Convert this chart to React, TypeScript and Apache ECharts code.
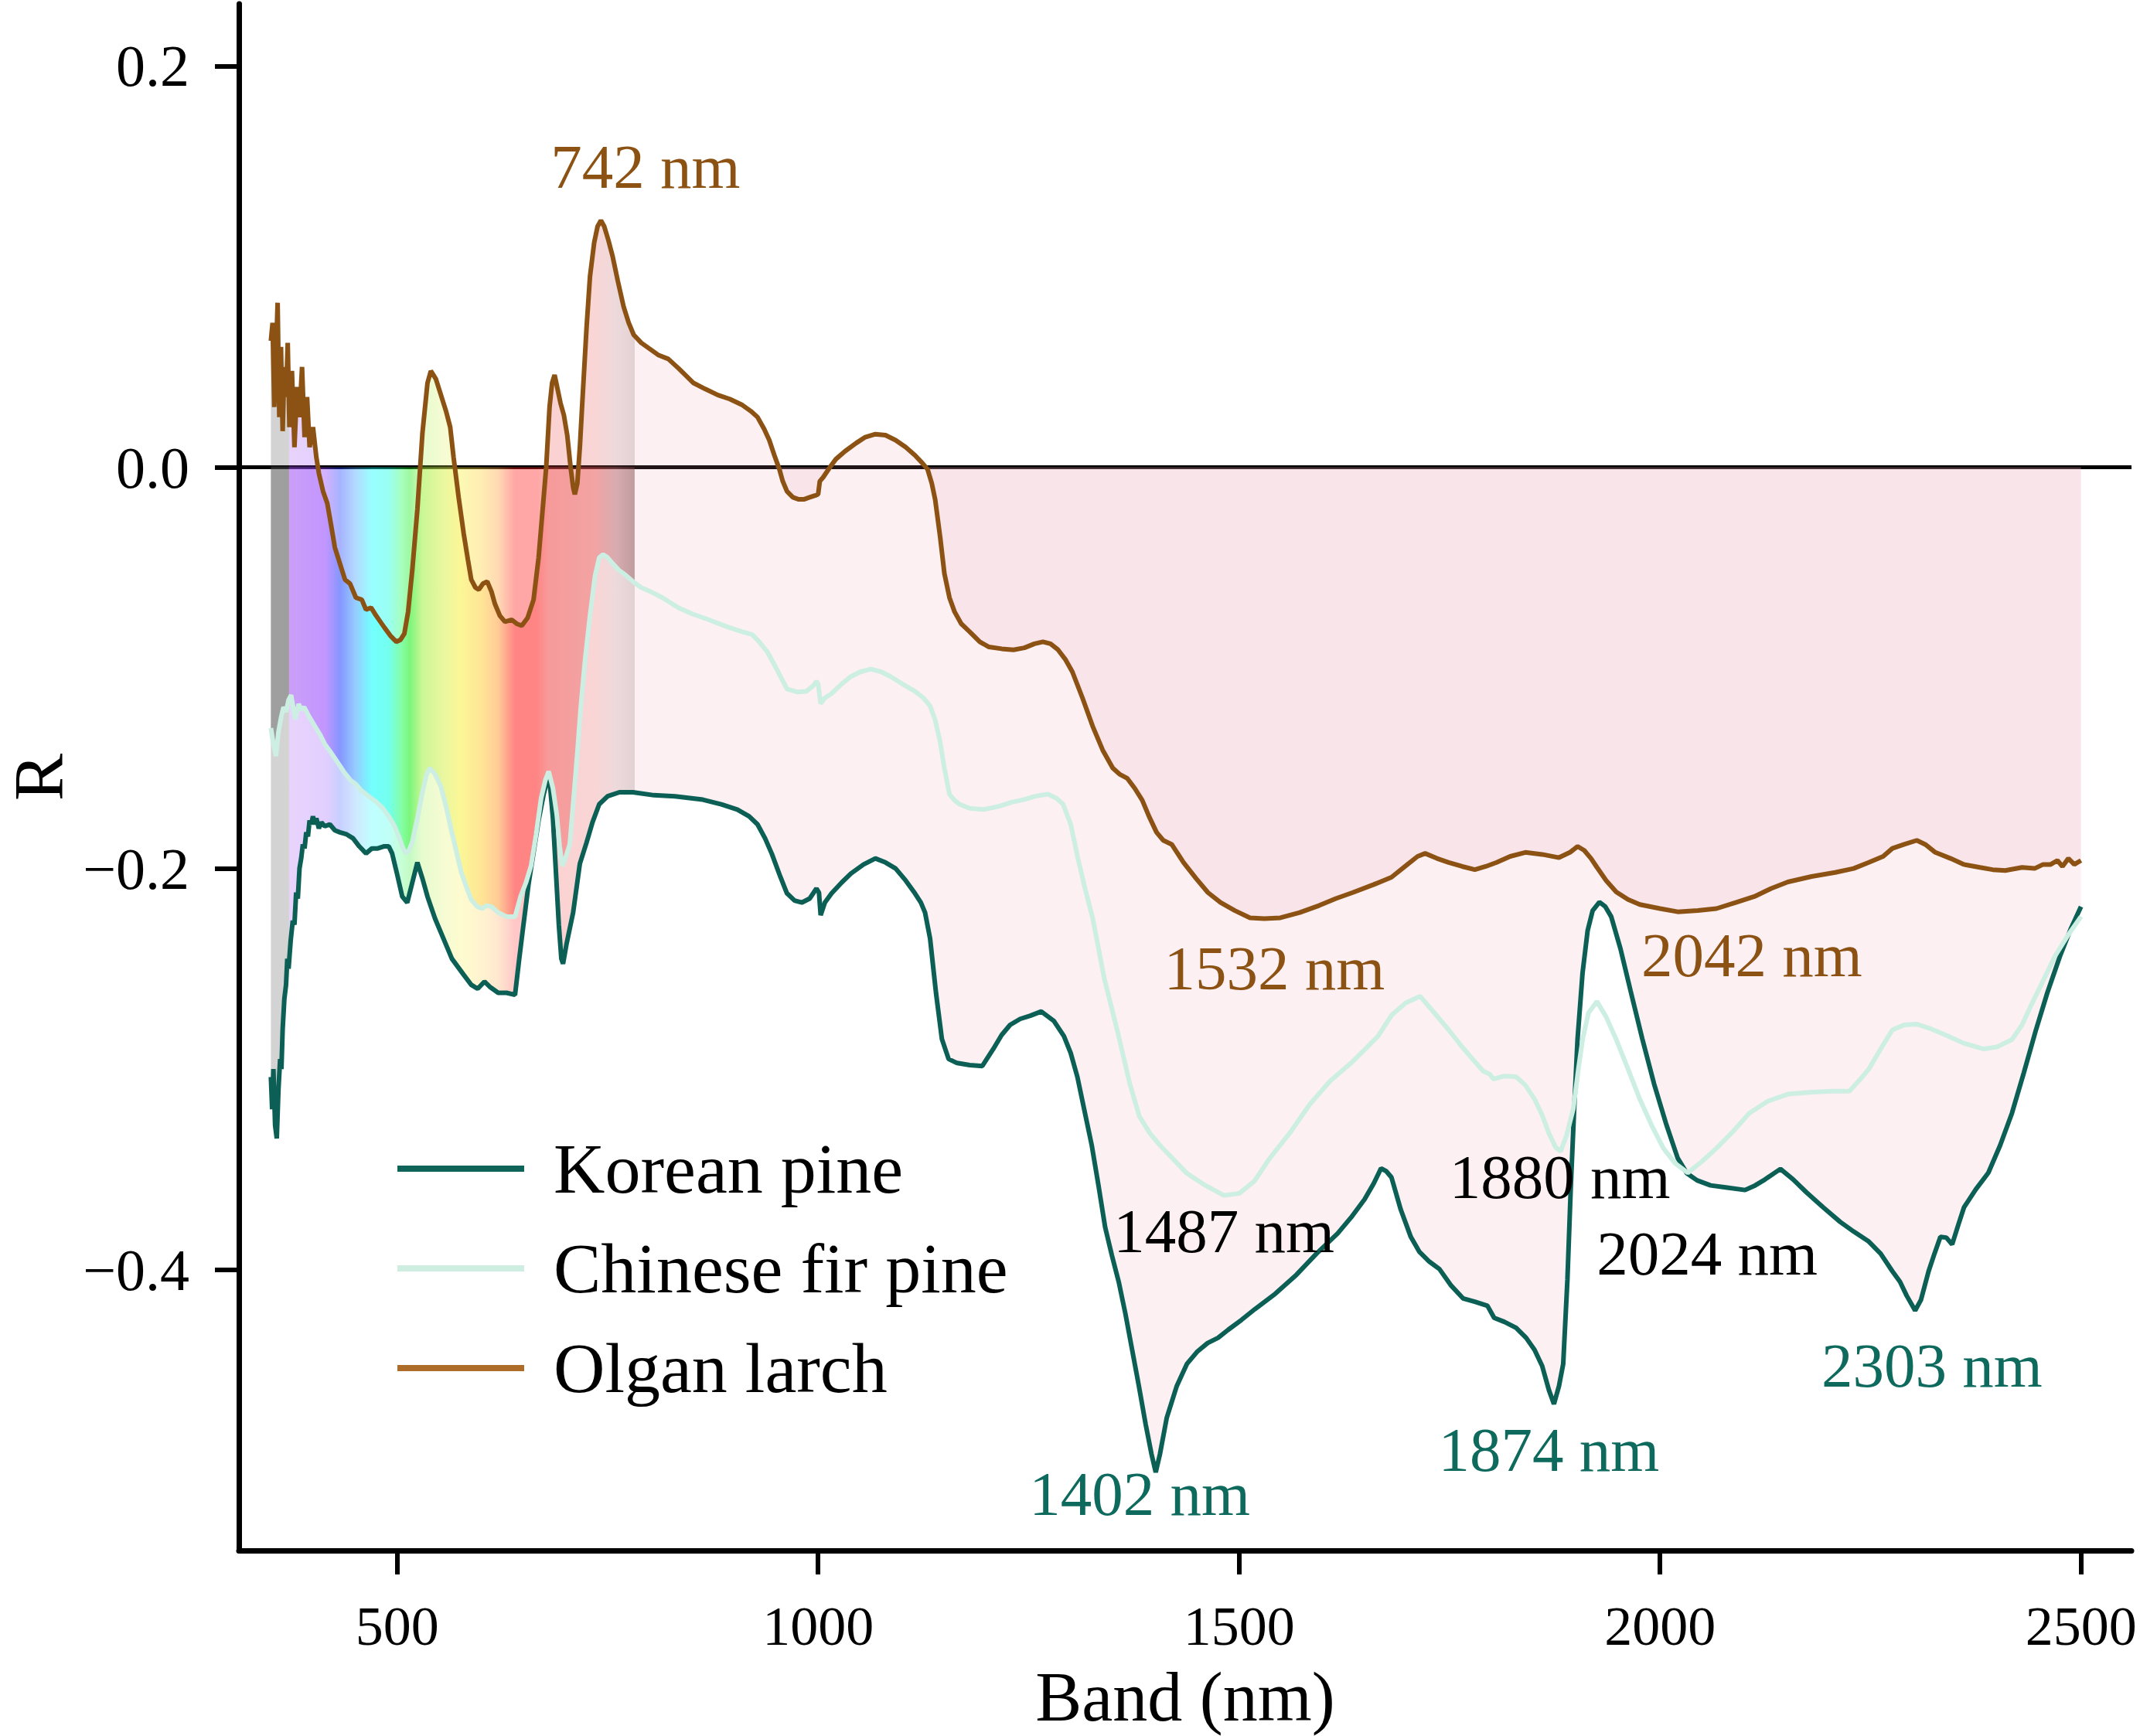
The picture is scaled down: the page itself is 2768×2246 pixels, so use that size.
import React, { useEffect, useRef } from "react";
import * as echarts from "echarts";

// ---------------- data ----------------
const KOREAN_PINE: [number, number][] = [
  [350,-0.304],[351.5,-0.32],[353,-0.3],[355,-0.328],[357,-0.3346],[359,-0.31],[361,-0.295],[362.5,-0.3],[364,-0.28],[366,-0.265],[368,-0.258],[369.5,-0.245],[371,-0.25],[373.5,-0.236],[376,-0.226],[378,-0.228],[380,-0.212],[382,-0.215],[384,-0.2],[386,-0.195],[388,-0.188],[390,-0.19],[392,-0.182],[394,-0.184],[396,-0.176],[398,-0.178],[400,-0.174],[402,-0.178],[404,-0.175],[407,-0.18],[410,-0.177],[414,-0.179],[420,-0.178],[426,-0.181],[432,-0.182],[440,-0.183],[447.6,-0.185],[455,-0.189],[463,-0.1925],[470,-0.19],[477,-0.19],[484,-0.189],[490,-0.189],[494,-0.1925],[500,-0.203],[506,-0.214],[512,-0.217],[518,-0.207],[524,-0.197],[530,-0.205],[536,-0.214],[545,-0.225],[555,-0.235],[565,-0.245],[579,-0.253],[588,-0.258],[595.6,-0.26],[603.7,-0.2564],[610,-0.259],[620,-0.262],[630,-0.262],[640,-0.263],[645,-0.245],[650,-0.228],[656,-0.208],[662,-0.192],[668,-0.176],[674,-0.163],[679,-0.155],[681,-0.156],[685,-0.175],[689,-0.205],[692,-0.228],[695,-0.245],[697,-0.2475],[701,-0.238],[709,-0.222],[717,-0.1976],[725,-0.187],[732,-0.177],[740,-0.168],[750,-0.164],[764,-0.162],[780,-0.162],[805,-0.1635],[830,-0.164],[863,-0.1657],[885,-0.168],[904,-0.1706],[918,-0.174],[928,-0.178],[937,-0.185],[945,-0.1927],[955,-0.204],[963,-0.2124],[972,-0.216],[980.6,-0.217],[990,-0.215],[998,-0.21],[1001,-0.212],[1003,-0.2233],[1008,-0.217],[1016,-0.2124],[1028,-0.207],[1039,-0.2025],[1054,-0.198],[1068,-0.195],[1080,-0.197],[1092,-0.2],[1104,-0.206],[1115,-0.2124],[1122,-0.217],[1127,-0.222],[1133,-0.235],[1140,-0.262],[1147,-0.285],[1155,-0.295],[1165,-0.297],[1180,-0.298],[1195,-0.2985],[1208,-0.29],[1218,-0.283],[1228,-0.278],[1240,-0.275],[1252,-0.2734],[1265,-0.2713],[1280,-0.276],[1292,-0.2836],[1300,-0.292],[1308,-0.304],[1316,-0.32],[1325,-0.338],[1333,-0.358],[1341,-0.379],[1349,-0.393],[1357,-0.406],[1365,-0.422],[1373,-0.44],[1381,-0.458],[1389,-0.477],[1396,-0.492],[1401,-0.501],[1406,-0.492],[1414,-0.474],[1426,-0.458],[1438,-0.447],[1450,-0.441],[1462.6,-0.4366],[1475,-0.434],[1487,-0.43],[1503,-0.425],[1519,-0.4196],[1543,-0.412],[1568,-0.4026],[1592,-0.392],[1617,-0.382],[1633,-0.374],[1649,-0.365],[1660,-0.357],[1668.6,-0.3495],[1675,-0.351],[1681,-0.354],[1692,-0.37],[1704,-0.3837],[1714,-0.391],[1726,-0.396],[1738,-0.3997],[1752,-0.408],[1766,-0.4143],[1780,-0.416],[1795,-0.418],[1803,-0.424],[1815,-0.426],[1829,-0.429],[1841,-0.434],[1851,-0.44],[1860,-0.448],[1868,-0.46],[1874,-0.467],[1880,-0.458],[1885,-0.447],[1890,-0.405],[1894,-0.359],[1898,-0.32],[1902,-0.2853],[1908,-0.252],[1914,-0.231],[1920,-0.221],[1928,-0.2168],[1935,-0.219],[1942,-0.224],[1953,-0.24],[1965,-0.261],[1979,-0.285],[1993,-0.3075],[2007,-0.327],[2021,-0.3444],[2032,-0.352],[2044,-0.3555],[2060,-0.358],[2078,-0.359],[2101,-0.3603],[2113,-0.358],[2123,-0.3555],[2143,-0.3498],[2158,-0.355],[2174,-0.3615],[2194,-0.369],[2214,-0.3762],[2230,-0.381],[2248,-0.386],[2262,-0.392],[2276,-0.4008],[2285,-0.406],[2293,-0.413],[2303,-0.4204],[2310,-0.415],[2319,-0.4008],[2326,-0.392],[2333,-0.3837],[2340,-0.384],[2347,-0.3874],[2354,-0.378],[2361,-0.369],[2375,-0.36],[2390,-0.3517],[2404,-0.338],[2418,-0.322],[2432,-0.302],[2446.5,-0.2805],[2460,-0.262],[2475,-0.2438],[2488,-0.23],[2500,-0.219],
];

const CHINESE_FIR: [number, number][] = [
  [350,-0.13],[353,-0.138],[356,-0.144],[359,-0.132],[362,-0.125],[365,-0.1196],[368,-0.122],[371,-0.116],[374,-0.1136],[377,-0.121],[379,-0.1257],[383,-0.118],[386,-0.121],[389.5,-0.1196],[395,-0.124],[401.7,-0.1287],[408,-0.133],[414,-0.138],[421,-0.142],[429,-0.147],[437,-0.152],[444.6,-0.156],[451,-0.158],[457,-0.161],[466,-0.164],[475,-0.1668],[483,-0.17],[490.5,-0.1744],[497,-0.179],[502.7,-0.185],[507,-0.19],[510,-0.1925],[514,-0.191],[518,-0.1866],[524,-0.175],[530,-0.162],[535,-0.153],[539,-0.15],[545,-0.153],[551.7,-0.159],[558,-0.169],[564,-0.1805],[570,-0.191],[576,-0.2018],[582,-0.209],[588,-0.2155],[595,-0.219],[601,-0.22],[606,-0.2185],[612,-0.219],[620,-0.222],[630,-0.224],[640,-0.224],[646.6,-0.214],[653,-0.207],[659,-0.1987],[665,-0.183],[671,-0.165],[676,-0.156],[680,-0.1516],[685,-0.16],[689.5,-0.173],[693,-0.189],[696,-0.1987],[699,-0.196],[705,-0.188],[709,-0.168],[714,-0.1425],[718,-0.12],[723,-0.0967],[729,-0.074],[735,-0.0542],[740,-0.045],[744.6,-0.0435],[750,-0.045],[756,-0.048],[763,-0.0512],[772,-0.054],[781,-0.0573],[790,-0.06],[800,-0.0618],[815,-0.065],[834,-0.07],[850,-0.073],[870,-0.076],[893,-0.0797],[910,-0.082],[922,-0.0835],[930,-0.087],[939.6,-0.092],[950,-0.1],[963,-0.1105],[975,-0.112],[986,-0.1117],[994,-0.109],[998,-0.1067],[1000,-0.108],[1003,-0.1178],[1008,-0.115],[1016,-0.1128],[1028,-0.108],[1039,-0.1043],[1050,-0.102],[1062.6,-0.1006],[1075,-0.102],[1086,-0.1043],[1100,-0.108],[1115,-0.1117],[1125,-0.115],[1133,-0.119],[1139,-0.126],[1144.6,-0.1363],[1150,-0.15],[1156,-0.163],[1162,-0.166],[1168,-0.168],[1180,-0.17],[1197,-0.1706],[1215,-0.169],[1230,-0.167],[1244,-0.1657],[1258,-0.164],[1273,-0.163],[1283,-0.165],[1291,-0.168],[1300,-0.178],[1308.6,-0.195],[1317,-0.21],[1326,-0.2246],[1340,-0.255],[1357,-0.2836],[1370,-0.307],[1381.6,-0.3236],[1394,-0.332],[1406,-0.338],[1422,-0.345],[1438,-0.352],[1460,-0.358],[1482,-0.363],[1500,-0.362],[1518,-0.356],[1535.5,-0.345],[1560,-0.332],[1584,-0.3176],[1608,-0.306],[1633,-0.297],[1650,-0.29],[1665,-0.2836],[1681,-0.2732],[1698,-0.267],[1715,-0.2637],[1732,-0.272],[1749,-0.2805],[1765,-0.289],[1778,-0.2953],[1790,-0.301],[1798,-0.3026],[1802,-0.305],[1815,-0.3035],[1829,-0.3038],[1840,-0.308],[1851,-0.315],[1860,-0.323],[1868,-0.332],[1876,-0.339],[1882,-0.341],[1889,-0.333],[1897,-0.3198],[1903,-0.3],[1908,-0.2853],[1915,-0.272],[1925,-0.2663],[1936,-0.274],[1948,-0.2853],[1962,-0.3],[1976,-0.315],[1990,-0.328],[2004,-0.3395],[2018,-0.347],[2033,-0.3517],[2050,-0.346],[2067,-0.3395],[2087,-0.331],[2106,-0.322],[2128,-0.316],[2152,-0.3125],[2180,-0.3115],[2205,-0.311],[2225,-0.311],[2238,-0.305],[2248,-0.3],[2262,-0.29],[2276,-0.2805],[2290,-0.278],[2305,-0.2776],[2322,-0.28],[2339,-0.283],[2360,-0.287],[2384,-0.29],[2400,-0.289],[2418,-0.2853],[2430,-0.278],[2441,-0.268],[2455,-0.256],[2469,-0.2438],[2485,-0.233],[2500,-0.224],
];

const OLGAN_LARCH: [number, number][] = [
  [350,0.063],[352,0.072],[354,0.03],[356,0.055],[358,0.082],[360,0.025],[362,0.06],[364,0.018],[366,0.05],[368,0.035],[370,0.062],[372,0.02],[375,0.048],[378,0.01],[381,0.04],[384,0.025],[387,0.05],[390,0.015],[393,0.035],[396,0.01],[400,0.02],[404,0.005],[407,-0.003],[412,-0.012],[417,-0.018],[422,-0.03],[426,-0.04],[432,-0.048],[438,-0.056],[444,-0.058],[451,-0.065],[458,-0.066],[463,-0.071],[469,-0.07],[475,-0.074],[480,-0.077],[485,-0.08],[492,-0.084],[499,-0.087],[504,-0.086],[508.5,-0.083],[513,-0.072],[518,-0.051],[524,-0.021],[530,0.017],[536,0.042],[540,0.048],[546,0.044],[552,0.036],[558,0.028],[563,0.02],[567,0.005],[573,-0.015],[579,-0.033],[584,-0.046],[588,-0.056],[593,-0.06],[597,-0.061],[602,-0.058],[607,-0.057],[612,-0.062],[616,-0.068],[622,-0.074],[628,-0.077],[636,-0.076],[642,-0.078],[648,-0.079],[655,-0.075],[662,-0.066],[668,-0.045],[673,-0.02],[677,0],[681,0.03],[684,0.042],[687,0.046],[690,0.04],[694,0.032],[698,0.026],[702,0.016],[706,0],[709,-0.01],[711,-0.0135],[714,-0.008],[717,0.01],[720,0.033],[725,0.07],[729,0.095],[734,0.112],[738,0.12],[742,0.123],[746,0.12],[751,0.113],[756,0.105],[762,0.093],[769,0.08],[775,0.072],[781,0.066],[790,0.062],[800,0.059],[810,0.056],[822,0.054],[835,0.049],[852,0.042],[866,0.039],[881,0.036],[895,0.034],[910,0.031],[920,0.028],[928,0.025],[936,0.019],[942,0.0135],[948,0.006],[954,-0.001],[958,-0.007],[963,-0.012],[970,-0.015],[977,-0.016],[983,-0.016],[990,-0.015],[997,-0.014],[1000,-0.0135],[1002,-0.007],[1006,-0.005],[1014,0],[1021,0.004],[1032,0.008],[1045,0.012],[1056,0.015],[1068,0.0165],[1080,0.016],[1092,0.0135],[1104,0.01],[1115,0.006],[1124,0.002],[1130,-0.001],[1135,-0.008],[1139,-0.016],[1145,-0.035],[1150,-0.053],[1156,-0.065],[1162,-0.072],[1170,-0.078],[1180,-0.082],[1192,-0.087],[1203,-0.0896],[1218,-0.0905],[1232,-0.091],[1245,-0.09],[1257,-0.088],[1267,-0.087],[1276,-0.088],[1285,-0.091],[1294,-0.096],[1302,-0.102],[1314,-0.115],[1326,-0.129],[1338,-0.141],[1350,-0.15],[1358,-0.153],[1367,-0.155],[1376,-0.16],[1385,-0.166],[1393,-0.174],[1402,-0.182],[1410,-0.186],[1420,-0.188],[1434,-0.197],[1449,-0.205],[1463,-0.212],[1478,-0.217],[1495,-0.221],[1513,-0.2246],[1530,-0.225],[1549,-0.2246],[1572,-0.222],[1595,-0.2185],[1615,-0.215],[1635,-0.212],[1660,-0.208],[1681,-0.2044],[1700,-0.198],[1712,-0.194],[1721,-0.1925],[1735,-0.195],[1749,-0.197],[1765,-0.199],[1780,-0.2006],[1793,-0.199],[1806,-0.197],[1822,-0.194],[1840,-0.192],[1860,-0.193],[1880,-0.1946],[1893,-0.192],[1902,-0.189],[1910,-0.191],[1918,-0.195],[1925,-0.1994],[1936,-0.206],[1948,-0.2117],[1962,-0.2155],[1976,-0.218],[2000,-0.22],[2021,-0.2216],[2045,-0.221],[2067,-0.22],[2090,-0.217],[2112,-0.214],[2132,-0.21],[2152,-0.2067],[2180,-0.204],[2208,-0.202],[2230,-0.2],[2248,-0.197],[2265,-0.194],[2276,-0.19],[2290,-0.188],[2305,-0.186],[2315,-0.188],[2327,-0.192],[2345,-0.195],[2361,-0.198],[2380,-0.1995],[2395,-0.2006],[2410,-0.201],[2430,-0.1995],[2445,-0.2],[2455,-0.198],[2464,-0.198],[2472,-0.196],[2478,-0.199],[2485,-0.195],[2492,-0.198],[2500,-0.196],
];

const SERIES_NAMES = ["Korean pine", "Chinese fir pine", "Olgan larch"];

const X_TICKS = [500, 1000, 1500, 2000, 2500];
const Y_TICKS = [-0.4, -0.2, 0, 0.2];

// visible-spectrum band (wavelength, colour)
const SPECTRUM_STOPS: [number, string][] = [
  [350, "80,80,80"], [371, "80,80,80"], [372, "160,80,240"], [415, "144,64,255"],
  [432, "32,64,255"], [450, "64,160,255"], [470, "0,255,255"], [490, "0,255,224"],
  [505, "32,255,96"], [515, "16,238,16"], [530, "160,240,64"], [555, "216,240,80"],
  [575, "248,240,64"], [600, "255,208,64"], [620, "255,160,64"], [640, "255,32,32"],
  [665, "255,32,32"], [680, "240,72,72"], [735, "232,88,88"], [760, "184,104,112"],
  [782, "138,74,80"],
];
const SPECTRUM_END = 782;

const ANNOTATIONS = [
  { text: "742 nm", x: 795, y: 0.1496, group: "larch" },
  { text: "1532 nm", x: 1542, y: -0.25, group: "larch" },
  { text: "2042 nm", x: 2109, y: -0.2434, group: "larch" },
  { text: "1487 nm", x: 1482, y: -0.381, group: "fir" },
  { text: "1880 nm", x: 1881, y: -0.354, group: "fir" },
  { text: "2024 nm", x: 2056, y: -0.392, group: "fir" },
  { text: "1402 nm", x: 1382, y: -0.512, group: "korean" },
  { text: "1874 nm", x: 1868, y: -0.49, group: "korean" },
  { text: "2303 nm", x: 2323, y: -0.448, group: "korean" },
];

// ---------------- styling ----------------
const FONT = "'Liberation Serif', 'Times New Roman', serif";
const C_KOREAN = "#0c5f55";
const C_FIR = "#cdeee2";
const C_LARCH = "#8c5214";
const LEGEND_COLORS = ["#0f6459", "#cdeee0", "#ad6c28"];
const TEXT_COLORS: Record<string, string> = { larch: "#8c5214", fir: "#000000", korean: "#0f6a5e" };

function interp(series: [number, number][], x: number): number {
  for (let i = 1; i < series.length; i++) {
    const [x0, y0] = series[i - 1];
    const [x1, y1] = series[i];
    if (x >= x0 && x <= x1) return y0 + ((y1 - y0) * (x - x0)) / (x1 - x0);
  }
  return series[series.length - 1][1];
}

export default function App() {
  const ref = useRef<HTMLDivElement>(null);

  useEffect(() => {
    document.body.style.margin = "0";
    if (!ref.current) return;
    const chart = echarts.init(ref.current, undefined, { renderer: "svg" });

    const xStart = KOREAN_PINE[0][0];
    const xEnd = KOREAN_PINE[KOREAN_PINE.length - 1][0];
    const span = xEnd - xStart;

    const renderFills = (_params: any, api: any) => {
      const px = (p: [number, number]) => api.coord(p);
      const gx0 = api.coord([xStart, 0])[0];
      const gx1 = api.coord([xEnd, 0])[0];

      // light layer: between larch and Korean pine
      const lightStops: any[] = SPECTRUM_STOPS.map(([w, c]) => ({
        offset: (w - xStart) / span,
        color: `rgba(${c},0.25)`,
      }));
      const pinkOff = (SPECTRUM_END - xStart) / span;
      lightStops.push({ offset: pinkOff, color: "rgba(240,150,172,0.14)" });
      lightStops.push({ offset: 1, color: "rgba(240,150,172,0.14)" });
      const lightPts = [
        ...OLGAN_LARCH.map(px),
        ...KOREAN_PINE.slice().reverse().map(px),
      ];

      // saturated spectrum: between 0 and fir in the visible band
      const satStops = SPECTRUM_STOPS.map(([w, c]) => ({
        offset: (w - xStart) / (SPECTRUM_END - xStart),
        color: `rgba(${c},0.4)`,
      }));
      const firVis = CHINESE_FIR.filter((p) => p[0] < SPECTRUM_END);
      firVis.push([SPECTRUM_END, interp(CHINESE_FIR, SPECTRUM_END)]);
      const satPts = [
        px([xStart, 0]),
        px([SPECTRUM_END, 0]),
        ...firVis.slice().reverse().map(px),
      ];
      const sx1 = api.coord([SPECTRUM_END, 0])[0];

      // darker pink: between 0 and larch (below 0) in the infrared
      const larchIr: [number, number][] = [[SPECTRUM_END, Math.min(0, interp(OLGAN_LARCH, SPECTRUM_END))]];
      OLGAN_LARCH.forEach((p) => {
        if (p[0] > SPECTRUM_END) larchIr.push([p[0], Math.min(0, p[1])]);
      });
      const darkPts = [...larchIr.map(px), px([xEnd, 0]), px([SPECTRUM_END, 0])];

      return {
        type: "group",
        children: [
          {
            type: "polygon",
            shape: { points: lightPts },
            style: { fill: new echarts.graphic.LinearGradient(gx0, 0, gx1, 0, lightStops, true) },
          },
          {
            type: "polygon",
            shape: { points: satPts },
            style: { fill: new echarts.graphic.LinearGradient(gx0, 0, sx1, 0, satStops, true) },
          },
          {
            type: "polygon",
            shape: { points: darkPts },
            style: { fill: "rgba(236,165,185,0.3)" },
          },
        ],
      };
    };

    const renderText = (params: any, api: any) => {
      const a = ANNOTATIONS[params.dataIndex];
      const p = api.coord([api.value(0), api.value(1)]);
      return {
        type: "text",
        x: p[0],
        y: p[1],
        style: {
          text: a.text,
          fill: TEXT_COLORS[a.group],
          fontFamily: FONT,
          fontSize: 81,
          align: "center",
          verticalAlign: "middle",
        },
      };
    };

    const lineSeries = (name: string, data: [number, number][], color: string, z: number) => ({
      name,
      type: "line",
      data,
      symbol: "none",
      color,
      lineStyle: { color, width: 6 },
      z,
    });

    const option: any = {
      animation: false,
      backgroundColor: "#ffffff",
      grid: { left: 309, right: 11, top: 5, bottom: 240, containLabel: false, outerBoundsMode: "none" },
      xAxis: {
        type: "value",
        min: 312,
        max: 2560,
        name: "Band (nm)",
        nameLocation: "middle",
        nameGap: 144,
        nameTextStyle: { fontFamily: FONT, fontSize: 90, color: "#000" },
        axisLine: { show: true, onZero: false, lineStyle: { color: "#000", width: 7 } },
        axisTick: { show: true, length: 31, lineStyle: { color: "#000", width: 6 }, customValues: X_TICKS },
        axisLabel: {
          fontFamily: FONT, fontSize: 72, color: "#000", margin: 62,
          customValues: X_TICKS,
          formatter: (v: number) => String(v),
        },
        splitLine: { show: false },
      },
      yAxis: {
        type: "value",
        min: -0.54,
        max: 0.231,
        name: "R",
        nameLocation: "middle",
        nameGap: 206,
        nameTextStyle: { fontFamily: FONT, fontSize: 92, color: "#000" },
        axisLine: { show: true, onZero: false, lineStyle: { color: "#000", width: 7 } },
        axisTick: { show: true, length: 31, lineStyle: { color: "#000", width: 6 }, customValues: Y_TICKS },
        axisLabel: {
          fontFamily: FONT, fontSize: 76, color: "#000", margin: 64,
          customValues: Y_TICKS,
          formatter: (v: number) => (v < -1e-9 ? "\u2212" : "") + Math.abs(v).toFixed(1),
        },
        splitLine: { show: false },
      },
      legend: {
        data: SERIES_NAMES.map((n, i) => ({ name: n, itemStyle: { color: LEGEND_COLORS[i] } })),
        orient: "vertical",
        left: 514,
        top: 1456,
        padding: 0,
        icon: "rect",
        itemWidth: 164,
        itemHeight: 8,
        itemGap: 17,
        textStyle: {
          fontFamily: FONT, fontSize: 92, color: "#000",
          lineHeight: 80, padding: [32, 0, 0, 33],
        },
      },
      series: [
        {
          type: "custom",
          name: "fills",
          renderItem: renderFills,
          data: [[xStart, 0]],
          encode: { x: 0, y: 1 },
          silent: true,
          z: 2,
          markLine: {
            silent: true,
            symbol: ["none", "none"],
            z: 1,
            label: { show: false },
            lineStyle: { color: "#000", width: 5, type: "solid" },
            data: [{ yAxis: 0 }],
          },
        },
        lineSeries(SERIES_NAMES[0], KOREAN_PINE, C_KOREAN, 3),
        lineSeries(SERIES_NAMES[1], CHINESE_FIR, C_FIR, 4),
        lineSeries(SERIES_NAMES[2], OLGAN_LARCH, C_LARCH, 5),
        {
          type: "custom",
          name: "annotations",
          renderItem: renderText,
          data: ANNOTATIONS.map((a) => [a.x, a.y]),
          encode: { x: 0, y: 1 },
          silent: true,
          z: 6,
        },
      ],
    };

    chart.setOption(option);
    return () => chart.dispose();
  }, []);

  return (
    <div
      ref={ref}
      style={{ position: "absolute", left: 0, top: 0, width: 2768, height: 2246 }}
    />
  );
}
